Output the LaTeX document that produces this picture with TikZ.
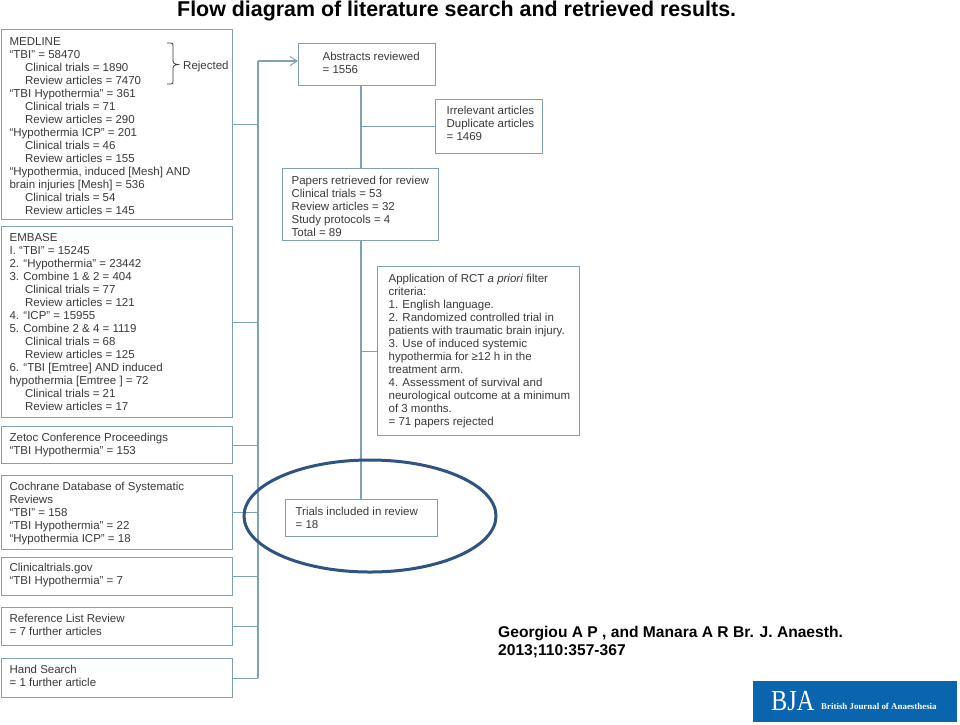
\documentclass[tikz,border=0pt]{standalone}
\usepackage{fontspec}
\setmainfont{Liberation Sans}
\newfontfamily\logofont{Liberation Serif}
\usetikzlibrary{arrows.meta,shapes.geometric}
\definecolor{boxline}{HTML}{7F9FB2}
\definecolor{wire}{HTML}{7CA3B5}
\definecolor{bodytext}{HTML}{3A3A3A}
\definecolor{ringblue}{HTML}{2F5383}
\definecolor{logoblue}{HTML}{0B64AE}
\newcommand{\ind}{\hspace*{15.5pt}}
\tikzset{
  srcbox/.style={draw=boxline,line width=1.2pt,fill=white,text=bodytext,font=\fontsize{11.5}{13}\selectfont,
    align=left,inner ysep=0pt},
  wireline/.style={draw=wire,line width=1.2pt},
  heading/.style={font=\fontsize{21.4}{24}\selectfont\bfseries,text=black,inner sep=0pt},
  cite/.style={font=\fontsize{15.6}{18}\selectfont\bfseries,text=black,align=left,inner sep=0pt},
}
\begin{document}
\begin{tikzpicture}[x=1pt,y=-1pt]
\useasboundingbox (0,0) rectangle (960,724);
\fill[white] (0,0) rectangle (960,724);
\def\boxnode#1#2#3#4#5#6#7#8{%
  \pgfmathsetmacro{\bw}{#4-#2}\pgfmathsetmacro{\bh}{#5-#3}\pgfmathsetmacro{\tw}{\bw-#6-1}%
  \node[srcbox,minimum width=\bw pt,minimum height=\bh pt,anchor=north west,inner xsep=0pt] (#1) at (#2,#3)
    {\hspace*{#6pt}\parbox[c][\bh pt][t]{\tw pt}{\vspace*{#7pt}\raggedright\setlength{\parindent}{0pt}\setlength{\baselineskip}{13pt}#8}};}
% trunk and spine reference points
\coordinate (trunktop) at (258,61);
\coordinate (spine) at (361,85);
% source boxes
\boxnode{medline}{1}{29}{232}{219}{7.5}{8}{MEDLINE\\“TBI” = 58470\\\ind Clinical trials = 1890\\\ind Review articles = 7470\\“TBI Hypothermia” = 361\\\ind Clinical trials = 71\\\ind Review articles = 290\\“Hypothermia ICP” = 201\\\ind Clinical trials = 46\\\ind Review articles = 155\\“Hypothermia, induced [Mesh] AND\\brain injuries [Mesh] = 536\\\ind Clinical trials = 54\\\ind Review articles = 145}
\boxnode{embase}{1}{226}{232}{417}{7.5}{7}{EMBASE\\I. “TBI” = 15245\\2. “Hypothermia” = 23442\\3. Combine 1 \& 2 = 404\\\ind Clinical trials = 77\\\ind Review articles = 121\\4. “ICP” = 15955\\5. Combine 2 \& 4 = 1119\\\ind Clinical trials = 68\\\ind Review articles = 125\\6. “TBI [Emtree] AND induced\\hypothermia [Emtree ] = 72\\\ind Clinical trials = 21\\\ind Review articles = 17}
\boxnode{zetoc}{1}{426}{232}{463}{7.5}{7}{Zetoc Conference Proceedings\\“TBI Hypothermia” = 153}
\boxnode{cochrane}{1}{475}{232}{549}{7.5}{7}{Cochrane Database of Systematic\\Reviews\\“TBI” = 158\\“TBI Hypothermia” = 22\\“Hypothermia ICP” = 18}
\boxnode{ctgov}{1}{557}{232}{595}{7.5}{6}{Clinicaltrials.gov\\“TBI Hypothermia” = 7}
\boxnode{reflist}{1}{607}{232}{645}{7.5}{7}{Reference List Review\\= 7 further articles}
\boxnode{handsearch}{1}{658}{232}{697}{7.5}{7}{Hand Search\\= 1 further article}
% process boxes
\boxnode{abstracts}{298}{43}{435}{85}{23.5}{8.5}{Abstracts reviewed\\= 1556}
\boxnode{irrelevant}{435}{99}{542}{153}{10.5}{7}{Irrelevant articles\\Duplicate articles\\= 1469}
\boxnode{papers}{282}{168}{438}{240}{8.5}{8}{Papers retrieved for review\\Clinical trials = 53\\Review articles = 32\\Study protocols = 4\\Total = 89}
\boxnode{filter}{377}{266}{579}{435}{10.5}{8}{Application of RCT \textit{a priori} filter\\criteria:\\1. English language.\\2. Randomized controlled trial in\\patients with traumatic brain injury.\\3. Use of induced systemic\\hypothermia for ≥12 h in the\\treatment arm.\\4. Assessment of survival and\\neurological outcome at a minimum\\of 3 months.\\= 71 papers rejected}
\boxnode{trials}{285}{499}{437}{536}{9.5}{8}{Trials included in review\\= 18}
% connectors
\coordinate (trunkbottom) at (258,677.5);
\draw[wireline] (trunktop) -- (trunkbottom);
\foreach \s in {medline,embase,zetoc,cochrane,ctgov,reflist,handsearch}
  \draw[wireline,line width=1pt] (\s.east) -- (\s.east -| trunktop);
\draw[wireline,-{Straight Barb[length=7pt,width=9pt,line width=1pt]}] (trunktop) -- (trunktop -| abstracts.west);
\draw[wireline,line width=1.6pt] (spine |- abstracts.south) -- (spine |- papers.north);
\draw[wireline,line width=1.6pt] (spine |- papers.south) -- (spine |- trials.north);
\draw[wireline,line width=1pt] (spine |- irrelevant.west) -- (irrelevant.west);
\draw[wireline,line width=1pt] (spine |- filter.west) -- (filter.west);
% rejected brace
\node[font=\fontsize{11.5}{13}\selectfont,text=bodytext,anchor=west,inner sep=0pt] (rejected) at (183,67) {Rejected};
\draw[draw=bodytext,line width=.8pt] (167,43) -- (171,43) .. controls (173,43) and (173,44) .. (173,46) -- (173,61)
  .. controls (173,63) and (174,64) .. (178,64.5) .. controls (174,65) and (173,66) .. (173,68) -- (173,81)
  .. controls (173,83) and (173,84) .. (171,84) -- (167,84);
% ring
\node[draw=ringblue,line width=3pt,shape=ellipse,minimum width=252pt,minimum height=112pt,inner sep=0pt] (ring) at (370,516) {};
% title, citation, logo
\node[heading,anchor=west] (title) at (177,11) {Flow diagram of literature search and retrieved results.};
\node[cite,anchor=north west] (citation) at (498,626) {Georgiou A P , and Manara A R Br. J. Anaesth.\\2013;110:357-367};
\node[fill=logoblue,minimum width=204pt,minimum height=41pt,anchor=north west,inner sep=0pt] (logo) at (753,681) {};
\node[text=white,font=\logofont\fontsize{29}{29}\selectfont,anchor=base west,inner sep=0pt,xscale=.84] (bja) at (771,710) {BJA};
\node[text=white,font=\logofont\bfseries\fontsize{8.9}{10}\selectfont,anchor=base west,inner sep=0pt] (bjaname) at (821,709) {British Journal of Anaesthesia};
\end{tikzpicture}
\end{document}
